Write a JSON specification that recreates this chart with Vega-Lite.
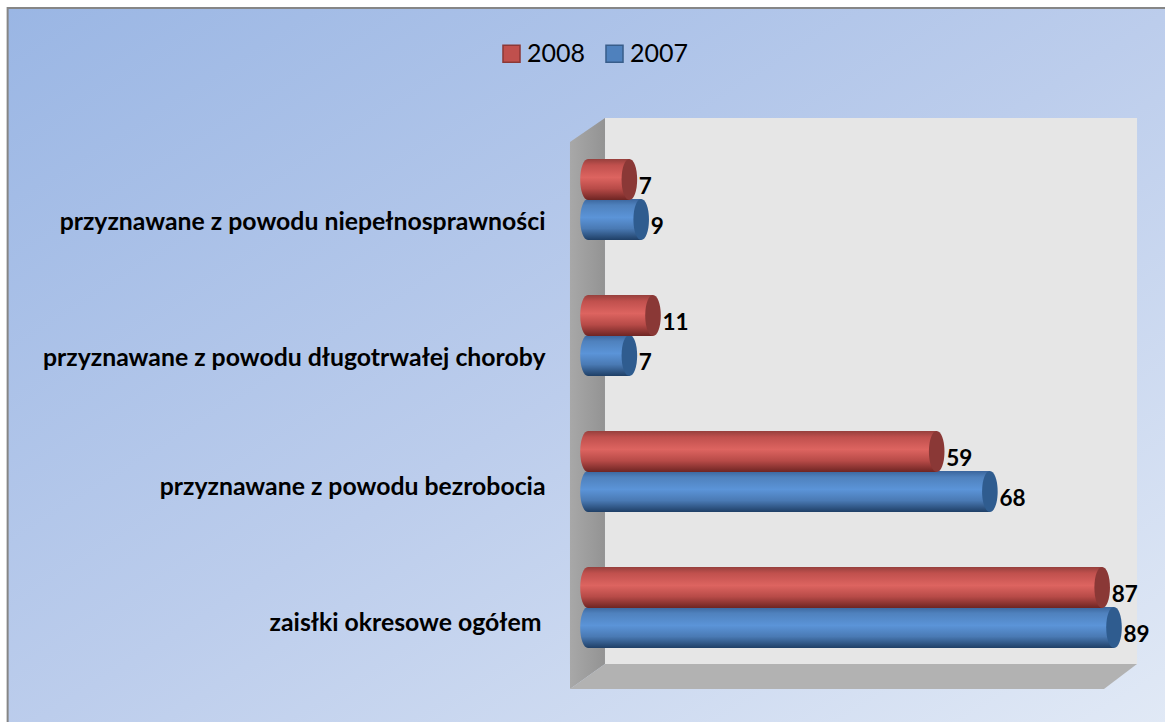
{"$schema":"https://vega.github.io/schema/vega-lite/v6.json","width":1165,"height":722,"padding":0,"autosize":{"type":"none"},"background":"#ffffff","view":{"stroke":null},"config":{"font":"Lato"},"datasets":{"main":[{"kat":"przyznawane z powodu niepełnosprawności","rok":"2008","wartosc":7},{"kat":"przyznawane z powodu niepełnosprawności","rok":"2007","wartosc":9},{"kat":"przyznawane z powodu długotrwałej choroby","rok":"2008","wartosc":11},{"kat":"przyznawane z powodu długotrwałej choroby","rok":"2007","wartosc":7},{"kat":"przyznawane z powodu bezrobocia","rok":"2008","wartosc":59},{"kat":"przyznawane z powodu bezrobocia","rok":"2007","wartosc":68},{"kat":"zaisłki okresowe ogółem","rok":"2008","wartosc":87},{"kat":"zaisłki okresowe ogółem","rok":"2007","wartosc":89}],"one":[{"n":1}]},"data":{"name":"main"},"resolve":{"scale":{"y":"independent"}},"layer":[{"data":{"name":"one"},"mark":{"type":"rect","stroke":"#868686","strokeWidth":2,"fill":{"gradient":"linear","x1":0,"y1":0,"x2":1,"y2":1,"stops":[{"offset":0,"color":"#9ab6e4"},{"offset":0.5,"color":"#bccdec"},{"offset":1,"color":"#e2eaf6"}]}},"encoding":{"x":{"datum":-98.2,"type":"quantitative","scale":{"domain":[-99.49,97.63],"nice":false,"zero":false},"axis":null},"x2":{"datum":100},"y":{"datum":8,"type":"quantitative","scale":{"domain":[0,722],"range":[0,722],"nice":false,"zero":false},"axis":null},"y2":{"datum":740}}},{"data":{"name":"one"},"mark":{"type":"rect","fill":"#e6e6e6"},"encoding":{"x":{"datum":2.88,"type":"quantitative","scale":{"domain":[-99.49,97.63],"nice":false,"zero":false},"axis":null},"x2":{"datum":92.9},"y":{"datum":118,"type":"quantitative","scale":{"domain":[0,722],"range":[0,722],"nice":false,"zero":false},"axis":null},"y2":{"datum":664}}},{"data":{"name":"one"},"mark":{"type":"point","filled":true,"opacity":1,"size":4,"strokeWidth":0,"shape":"M0,0 L35,-24 L35,522 L0,547 Z","fill":{"gradient":"linear","x1":0,"y1":0,"x2":1,"y2":0,"stops":[{"offset":0,"color":"#a8a8a8"},{"offset":1,"color":"#939393"}]}},"encoding":{"x":{"datum":-3.05,"type":"quantitative","scale":{"domain":[-99.49,97.63],"nice":false,"zero":false},"axis":null},"y":{"datum":142,"type":"quantitative","scale":{"domain":[0,722],"range":[0,722],"nice":false,"zero":false},"axis":null}}},{"data":{"name":"one"},"mark":{"type":"point","filled":true,"opacity":1,"size":4,"strokeWidth":0,"shape":"M0,0 L35,-25 L567,-25 L534,0 Z","fill":"#b2b2b2"},"encoding":{"x":{"datum":-3.05,"type":"quantitative","scale":{"domain":[-99.49,97.63],"nice":false,"zero":false},"axis":null},"y":{"datum":689,"type":"quantitative","scale":{"domain":[0,722],"range":[0,722],"nice":false,"zero":false},"axis":null}}},{"encoding":{"y":{"field":"kat","type":"nominal","sort":null,"scale":{"domain":["przyznawane z powodu niepełnosprawności","przyznawane z powodu długotrwałej choroby","przyznawane z powodu bezrobocia","zaisłki okresowe ogółem"],"range":[131.5,675.5],"paddingInner":0,"paddingOuter":0},"title":null,"axis":{"orient":"left","offset":-546,"zindex":1,"domain":false,"ticks":false,"grid":false,"title":null,"labelLimit":600,"labelFont":"Lato","labelFontWeight":"bold","labelFontSize":24.8,"labelColor":"#000000","labelPadding":{"condition":{"test":"indexof(datum.value,'ogółem')>=0","value":5},"value":1},"labelOffset":{"condition":{"test":"indexof(datum.value,'bezrobocia')>=0 || indexof(datum.value,'ogółem')>=0","value":16},"value":23}}},"yOffset":{"field":"rok","type":"nominal","sort":null,"scale":{"domain":["2008","2007"],"paddingInner":0,"paddingOuter":0.7}},"x":{"field":"wartosc","type":"quantitative","scale":{"domain":[-99.49,97.63],"nice":false,"zero":false},"axis":null}},"layer":[{"mark":{"type":"bar","size":41,"strokeWidth":0},"encoding":{"x2":{"datum":0},"color":{"field":"rok","type":"nominal","scale":{"domain":["2008","2007"],"range":["#c0504d","#4f81bd"]},"legend":{"orient":"none","legendX":499,"legendY":41,"direction":"horizontal","title":null,"symbolType":"square","symbolSize":290,"symbolStrokeWidth":1.5,"labelFont":"Lato","labelFontSize":25,"labelColor":"#000000","labelOffset":3,"columnPadding":16,"symbolOpacity":1}},"stroke":{"field":"rok","type":"nominal","scale":{"domain":["2008","2007"],"range":["#8c3836","#385d8a"]},"legend":{"orient":"none","legendX":499,"legendY":41,"direction":"horizontal","title":null,"symbolType":"square","symbolSize":290,"symbolStrokeWidth":1.5,"labelFont":"Lato","labelFontSize":25,"labelColor":"#000000","labelOffset":3,"columnPadding":16,"symbolOpacity":1}}}},{"transform":[{"filter":"datum.rok=='2007'"}],"layer":[{"mark":{"type":"bar","size":41,"fill":{"gradient":"linear","x1":0,"y1":0,"x2":0,"y2":1,"stops":[{"offset":0,"color":"#3a659c"},{"offset":0.15,"color":"#4f81bd"},{"offset":0.45,"color":"#5b94d8"},{"offset":0.72,"color":"#4a7ab4"},{"offset":1,"color":"#1f3f66"}]}},"encoding":{"x2":{"datum":0}}},{"mark":{"type":"point","filled":true,"opacity":1,"strokeWidth":0,"size":1681,"shape":"M0,-1 C0.22,-1 0.38,-0.55 0.38,0 C0.38,0.55 0.22,1 0,1 C-0.22,1 -0.38,0.55 -0.38,0 C-0.38,-0.55 -0.22,-1 0,-1 Z","fill":"#2f5c8f"}},{"mark":{"type":"point","filled":true,"opacity":1,"strokeWidth":0,"size":1681,"shape":"M0,-1 C0.22,-1 0.38,-0.55 0.38,0 C0.38,0.55 0.22,1 0,1 C-0.22,1 -0.38,0.55 -0.38,0 C-0.38,-0.55 -0.22,-1 0,-1 Z","fill":{"gradient":"linear","x1":0,"y1":0,"x2":0,"y2":1,"stops":[{"offset":0,"color":"#3a659c"},{"offset":0.15,"color":"#4f81bd"},{"offset":0.45,"color":"#5b94d8"},{"offset":0.72,"color":"#4a7ab4"},{"offset":1,"color":"#1f3f66"}]}},"encoding":{"x":{"datum":0,"type":"quantitative","scale":{"domain":[-99.49,97.63],"nice":false,"zero":false},"axis":null}}}]},{"transform":[{"filter":"datum.rok=='2008'"}],"layer":[{"mark":{"type":"bar","size":41,"fill":{"gradient":"linear","x1":0,"y1":0,"x2":0,"y2":1,"stops":[{"offset":0,"color":"#96403d"},{"offset":0.15,"color":"#c0504d"},{"offset":0.45,"color":"#dd6460"},{"offset":0.72,"color":"#b84b48"},{"offset":1,"color":"#6e2523"}]}},"encoding":{"x2":{"datum":0}}},{"mark":{"type":"point","filled":true,"opacity":1,"strokeWidth":0,"size":1681,"shape":"M0,-1 C0.22,-1 0.38,-0.55 0.38,0 C0.38,0.55 0.22,1 0,1 C-0.22,1 -0.38,0.55 -0.38,0 C-0.38,-0.55 -0.22,-1 0,-1 Z","fill":"#8a3836"}},{"mark":{"type":"point","filled":true,"opacity":1,"strokeWidth":0,"size":1681,"shape":"M0,-1 C0.22,-1 0.38,-0.55 0.38,0 C0.38,0.55 0.22,1 0,1 C-0.22,1 -0.38,0.55 -0.38,0 C-0.38,-0.55 -0.22,-1 0,-1 Z","fill":{"gradient":"linear","x1":0,"y1":0,"x2":0,"y2":1,"stops":[{"offset":0,"color":"#96403d"},{"offset":0.15,"color":"#c0504d"},{"offset":0.45,"color":"#dd6460"},{"offset":0.72,"color":"#b84b48"},{"offset":1,"color":"#6e2523"}]}},"encoding":{"x":{"datum":0,"type":"quantitative","scale":{"domain":[-99.49,97.63],"nice":false,"zero":false},"axis":null}}}]},{"mark":{"type":"text","align":"left","baseline":"middle","dx":9.5,"dy":7,"font":"Lato","fontWeight":"bold","fontSize":22.5,"fill":"#000000"},"encoding":{"text":{"field":"wartosc","type":"quantitative"}}}]}]}
